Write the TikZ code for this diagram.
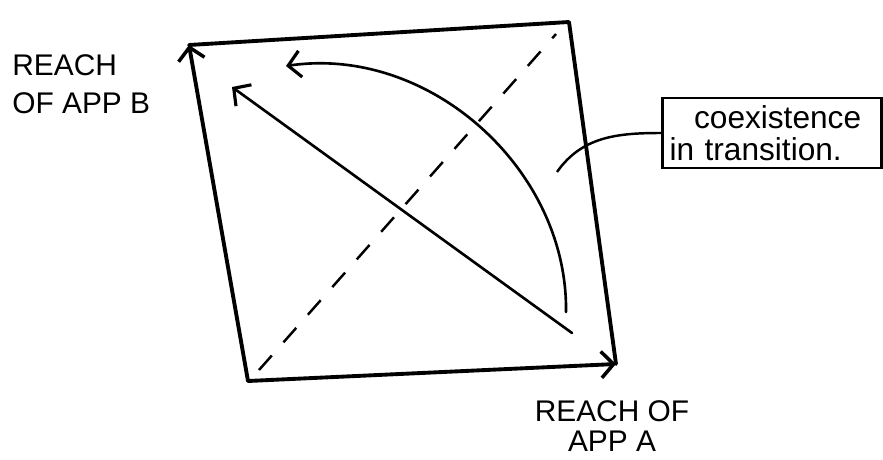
\documentclass[tikz,border=0pt]{standalone}
\usepackage{fontspec}
\setmainfont{Liberation Sans}
\usetikzlibrary{arrows.meta, positioning}

\begin{document}
\begin{tikzpicture}[x=0.02cm, y=-0.02cm,
  frame/.style={line width=2.2pt, line cap=round, line join=round},
  axis/.style={frame, -{Straight Barb[length=7pt, width=15pt, line width=2pt]}},
  move/.style={line width=1.5pt, line cap=round, -{Straight Barb[length=7pt, width=15pt, line width=1.8pt]}},
  lbl/.style={font=\fontsize{17}{17}\selectfont, inner sep=0pt}]
  \useasboundingbox (0,0) rectangle (883,460);
  % corners of the square
  \coordinate (o)  at (248,381);
  \coordinate (b)  at (189,45);
  \coordinate (a)  at (616,364);
  \coordinate (ab) at (569,22);
  \draw[frame] (b) -- (ab) -- (a);
  \draw[axis] (o) -- (b);
  \draw[axis] (o) -- (a);
  % diagonal
  \coordinate (d0) at (259,370);
  \coordinate (d1) at (556,34);
  \draw[line width=1.4pt, dash pattern=on 11pt off 10pt] (d0) -- (d1);
  % straight and curved moves
  \coordinate (s0) at (572,333);
  \coordinate (s1) at (232,87);
  \draw[move] (s0) -- (s1);
  \coordinate (c0) at (566,312);
  \coordinate (c1) at (286,66);
  \draw[move] (c0) .. controls (568,170) and (430,45) .. (c1);
  % note
  \node[draw, line width=1.4pt, text width=4.1cm, minimum height=1.4cm,
        inner sep=4pt, align=left, font=\fontsize{18}{18}\selectfont] (note) at (772,133)
        {\hspace{14pt}coexistence\\in transition.};
  \coordinate (n0) at (557,172);
  \draw[line width=1.4pt] (n0) to[out=55, in=180] (note.west);
  % axis labels
  \node[lbl, align=left, anchor=north west] (reachB) at (12,54) {REACH\\[5pt]OF APP B};
  \node[lbl, align=center, anchor=north] (reachA) at (612,400) {REACH OF\\APP A};
\end{tikzpicture}
\end{document}
